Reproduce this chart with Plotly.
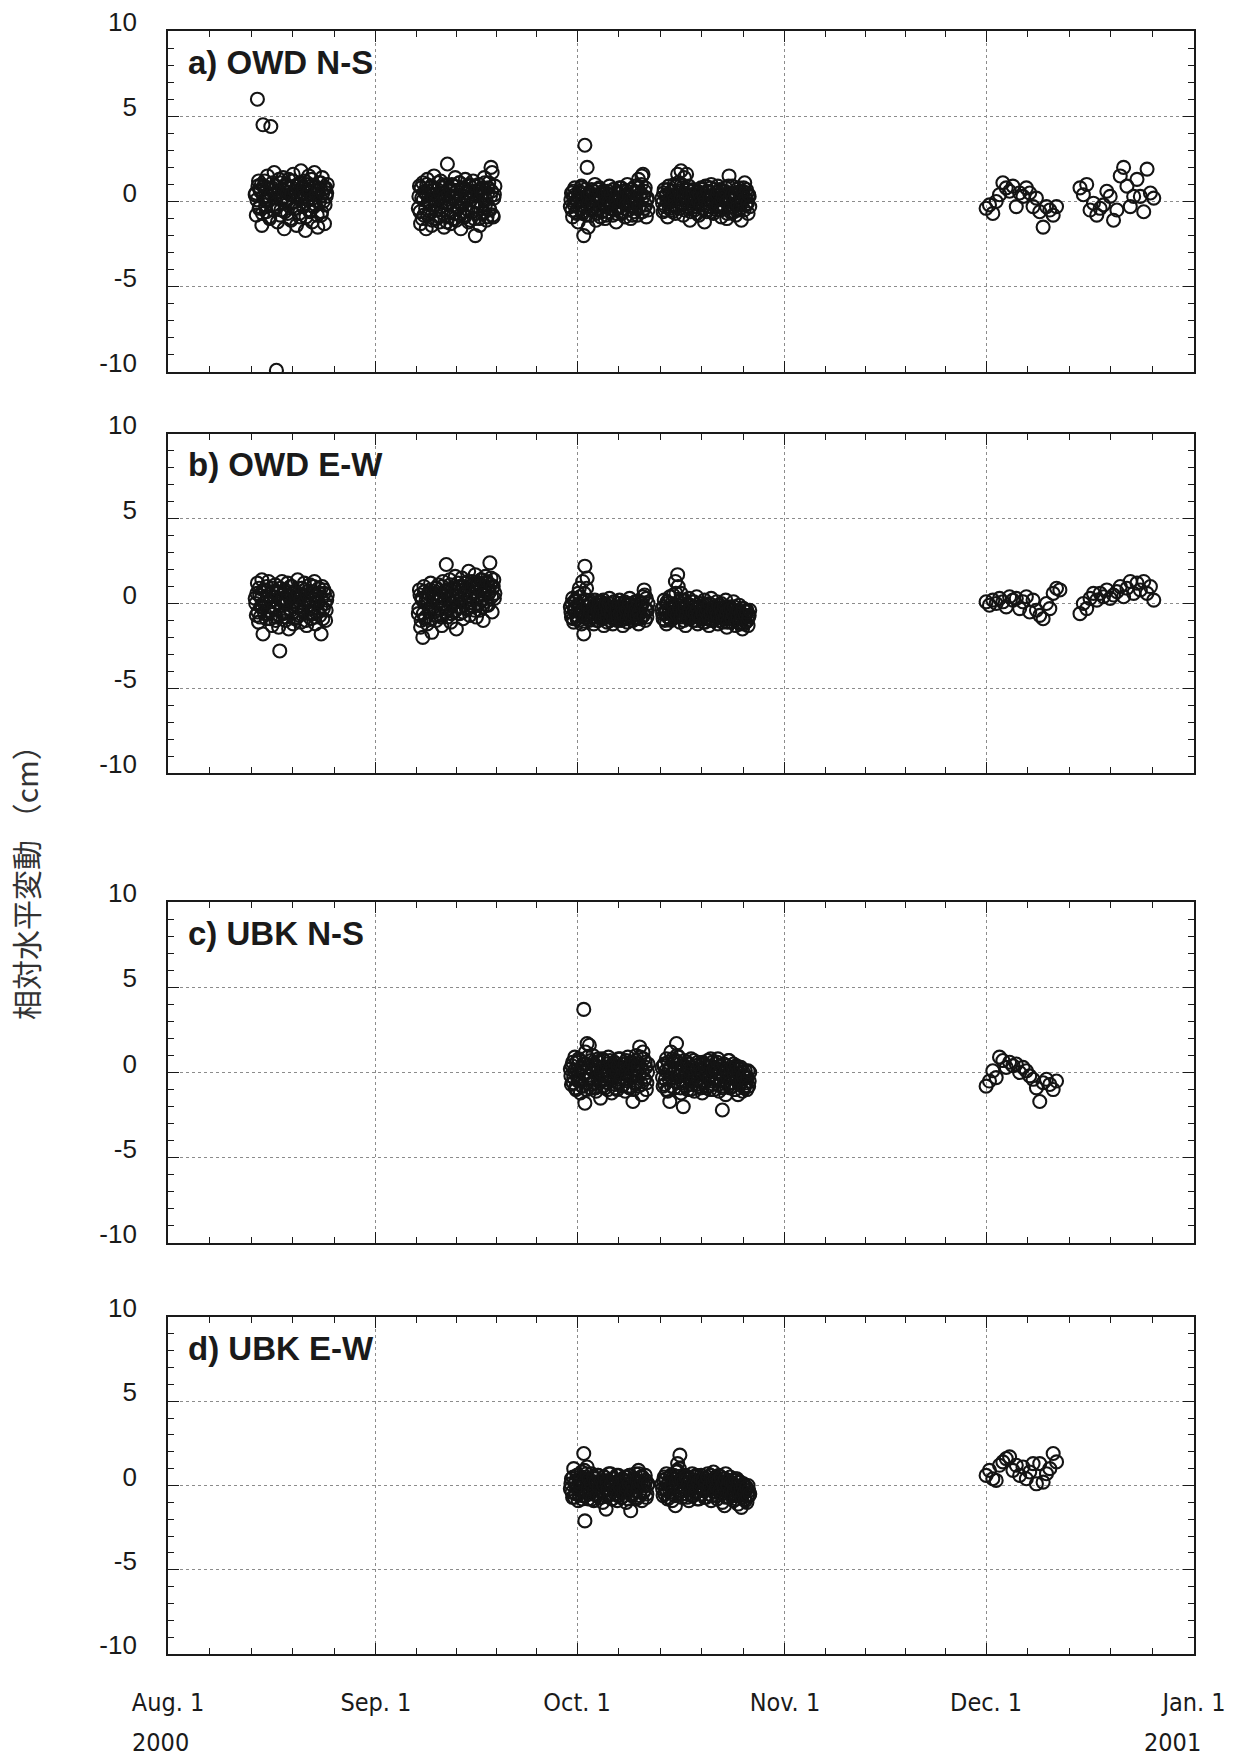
import pandas as pd
import plotly.graph_objects as go

# ---------------- data ----------------
# each cluster: start time, sampling step, values (cm)
a_times = ["2000-08-14 00:00", "2000-08-14 02:00", "2000-09-07 08:00", "2000-09-07 10:00",
           "2000-09-30 00:00", "2000-09-30 02:00", "2000-10-13 16:00", "2000-10-13 18:00",
           "2000-12-01 00:00", "2000-12-15 00:00"]
a_steps = ["4h", "4h", "4h", "4h", "4h", "4h", "4h", "4h", "12h", "12h"]
a1 = [0.4, -0.8, 6.0, 1.2, -0.3, 0.7, -1.4, 4.5, 0.9, 0.1, -0.6, 1.5, 0.3, -1.0, 4.4, 0.8, -0.2, 1.7, 0.5, -9.9,
      -1.2, 0.6, 1.1, -0.5, 0.2, 1.4, -1.6, 0.9, 0.0, -0.7, 1.3, 0.4, -1.1, 0.8, 1.6, -0.4, 0.3, -1.4, 1.0, 0.6,
      -0.9, 1.8, 0.2, -0.3, 1.2, -1.7, 0.7, 0.1, 1.5, -0.6, 0.9, -1.2, 0.4, 1.7, -0.2, 0.6, -1.5, 1.1, 0.3, -0.8,
      1.4, 0.0, -1.3, 0.8, 0.5]
a1x = [0.5, 0.1, 0.9, -0.4, 0.6, 1.0, -0.7, 0.3, 1.2, -0.2, 0.8, 0.0, -0.9, 0.7, 0.4, 1.1, -0.5, 0.2, 0.9, -0.3,
       0.6, 1.3, -0.8, 0.1, 0.7, 0.3, -0.6, 1.0, 0.5, -0.1, 0.8, -1.0, 0.4, 1.2, 0.0, 0.6, -0.4, 0.9, 0.2, -0.7,
       1.1, 0.5, -0.2, 0.8, 0.3, -0.9, 1.0, 0.1, 0.6, -0.5, 1.3, 0.2, -0.3, 0.9, 0.4, -0.8, 0.7, 0.0, 1.1, -0.6,
       0.5, 0.8, -0.2, 0.3, 1.0]
a2 = [-0.4, 0.9, -1.3, 0.2, 1.1, -0.8, 0.5, -1.6, 1.3, 0.0, -0.6, 0.8, -1.4, 0.4, 1.5, -0.2, -1.0, 0.7, 0.1, -1.2,
      1.2, -0.5, 0.3, -1.5, 0.9, -0.1, 2.2, -0.9, 0.6, -1.3, 1.0, 0.2, -0.7, 1.4, -1.1, 0.4, -0.3, 1.1, -1.6, 0.7,
      0.0, -0.8, 1.3, -0.4, 0.5, -1.2, 0.9, 0.1, -0.6, 1.2, -1.0, -2.0, 0.6, -0.3, 1.0, -1.4, 0.3, 0.8, -0.7, 1.4,
      -0.2, -1.1, 0.5, 1.1, -0.5, 2.0, 1.7, -0.9, 0.4]
a2x = [0.3, -0.6, 0.8, -1.0, 0.1, 0.6, -0.4, 1.0, -0.8, 0.4, -0.2, 0.9, -1.1, 0.2, 0.7, -0.5, 0.0, 1.1, -0.9, 0.5,
       -0.3, 0.8, -0.7, 0.2, 1.0, -1.2, 0.4, -0.1, 0.7, -0.6, 0.3, 0.9, -1.0, 0.0, 0.6, -0.4, 1.1, -0.8, 0.2, -0.2,
       0.8, -0.9, 0.5, 0.1, -0.5, 1.0, -1.1, 0.3, 0.6, -0.3, 0.9, -0.7, 0.0, 0.4, -1.0, 0.7, -0.2, 0.5, -0.6, 1.1,
       0.1, -0.9, 0.8, -0.4, 0.3, 0.6, -0.8, 0.2, 0.9]
a3 = [-0.3, 0.5, -0.9, 0.2, 0.8, -0.6, 0.1, -1.2, 0.6, -0.2, 0.9, -0.7, -2.0, 3.3, 0.3, 2.0, -1.5, 0.4, -0.8, 0.7,
      -0.4, 0.0, 1.0, -1.1, 0.3, -0.5, 0.8, -0.9, 0.2, 0.6, -0.3, -1.0, 0.5, 0.1, -0.6, 0.9, -0.2, 0.4, -0.8, 0.7,
      0.0, -1.2, 0.5, -0.4, 0.8, 0.2, -0.7, 0.6, -0.1, -0.9, 0.4, 1.0, -0.5, 0.3, -1.0, 0.7, 0.0, -0.6, 0.9, 0.2,
      -0.8, 1.3, -0.3, 0.5, 1.5, 1.6, -0.4, 0.8, -0.9, 0.2]
a3x = [0.1, -0.5, 0.6, -0.2, 0.4, -0.7, 0.0, 0.5, -0.4, 0.8, -0.6, 0.2, -0.3, 0.7, -0.8, 0.3, -0.1, 0.5, -0.5, 0.1,
       0.6, -0.3, 0.4, -0.7, 0.0, 0.7, -0.4, 0.2, -0.6, 0.5, -0.1, 0.3, -0.8, 0.6, 0.0, -0.4, 0.4, -0.2, 0.7, -0.5,
       0.1, -0.7, 0.5, -0.3, 0.2, 0.8, -0.6, 0.0, 0.4, -0.2, 0.6, -0.5, 0.3, -0.1, 0.7, -0.8, 0.2, 0.5, -0.4, 0.0,
       0.8, -0.3, 0.4, 1.0, -0.6, 0.3, 0.6, -0.2, 0.1, -0.5]
a4 = [0.2, -0.6, 0.7, -0.3, 0.4, -0.9, 0.9, 0.0, -0.5, 0.6, -0.2, 1.0, -0.7, 0.3, 1.6, 0.5, -0.4, 1.8, 0.8, -0.8,
      1.4, 0.1, 1.6, -0.3, 0.9, -1.1, 0.4, 0.0, 0.7, -0.5, 0.3, -0.1, 0.6, -0.8, 0.2, 0.8, -0.4, 0.5, -1.2, 0.9,
      -0.6, 0.1, 0.6, -0.3, 1.0, 0.0, -0.7, 0.7, 0.2, -0.5, 0.9, -0.2, 0.4, -0.9, 0.6, 0.1, -0.4, 0.8, -1.0, 0.3,
      1.5, -0.6, 0.5, 0.9, -0.3, 0.2, -0.8, 0.7, 0.0, -0.5, 0.6, -1.1, 0.4, 0.8, 1.1, -0.2, 0.5, -0.7, 0.3]
a4x = [-0.1, 0.5, -0.5, 0.3, 0.0, 0.7, -0.4, 0.2, 0.6, -0.6, 0.4, 0.1, 0.9, -0.3, 1.1, 0.6, 0.2, 1.0, -0.2, 0.5,
       -0.5, 0.3, 0.7, -0.1, 0.4, -0.6, 0.1, 0.6, -0.3, 0.2, 0.5, -0.7, 0.0, 0.4, -0.2, 0.7, -0.4, 0.3, 0.1, -0.5,
       0.6, -0.1, 0.2, 0.8, -0.6, 0.3, 0.0, 0.5, -0.3, 0.4, -0.2, 0.7, -0.5, 0.1, 0.3, -0.4, 0.6, 0.0, -0.7, 0.9,
       0.2, -0.3, 0.4, 0.1, -0.6, 0.5, 0.2, -0.2, 0.8, -0.4, 0.3, 0.0, 0.6, -0.5, 0.2, 0.7, -0.1, 0.4, -0.3]
a5 = [-0.4, -0.2, -0.7, 0.0, 0.4, 1.1, 0.8, 0.6, 0.9, -0.3, 0.5, 0.3, 0.8, 0.5, -0.3, 0.2, -0.6, -1.5, -0.3, -0.5,
      -0.8, -0.3]
a6 = [0.8, 0.4, 1.0, -0.5, -0.1, -0.8, -0.4, -0.2, 0.6, 0.3, -1.1, -0.5, 1.5, 2.0, 0.9, -0.3, 0.3, 1.3, 0.3, -0.6,
      1.9, 0.5, 0.2]

b_times = a_times
b_steps = a_steps
b1 = [0.3, -0.7, 1.2, -1.1, 0.5, -0.2, 1.4, -1.8, 0.0, 0.8, -0.9, 0.4, 1.3, -0.5, 0.1, -1.3, 0.9, -0.3, 1.1, -0.8,
      0.6, -1.4, -2.8, 0.2, 1.3, -0.6, 0.7, -1.0, 0.0, 1.2, -1.5, 0.4, -0.4, 1.0, -1.2, 0.6, 0.1, -0.8, 1.4, -0.2,
      0.5, -1.1, 0.9, -0.5, 1.2, 0.2, -1.3, 0.7, -0.1, 1.1, -0.9, 0.3, -0.6, 1.3, -1.2, 0.5, 0.0, 0.9, -0.7, -1.8,
      1.0, -0.3, 0.6, -1.0, 0.2]
b1x = [0.0, 0.6, -0.5, 0.9, -0.8, 0.3, -0.2, 0.8, -0.6, 0.1, 1.0, -0.4, 0.5, -0.9, 0.2, 0.7, -0.3, 0.4, -1.0, 0.6,
       0.0, -0.7, 0.9, -0.1, 0.3, -0.5, 0.8, -0.8, 0.2, 0.5, -0.3, 1.0, -0.6, 0.1, 0.7, -0.9, 0.4, -0.2, 0.6, -0.7,
       0.3, 0.9, -0.4, 0.0, 0.8, -1.0, 0.5, -0.1, 0.2, -0.6, 0.7, -0.3, 1.0, -0.8, 0.4, 0.1, -0.5, 0.6, -0.2, 0.3,
       -0.9, 0.8, 0.0, -0.4, 0.5]
b2 = [-0.6, 0.8, -1.4, 0.3, -2.0, 1.0, -0.9, 0.2, -1.2, 0.6, -0.3, 1.2, -1.7, 0.4, -0.5, 0.9, -1.0, 0.1, 1.1, -0.7,
      0.5, -1.3, 1.3, -0.2, 0.7, 2.3, -0.8, 0.3, 1.4, -1.1, 0.0, 0.9, -0.5, 1.6, -1.5, 0.4, 1.0, -0.6, 0.2, 1.5,
      -0.9, 0.6, 1.2, -0.3, 0.8, 1.9, -0.7, 0.4, 1.3, -0.2, 0.9, 1.7, -0.8, 0.5, 1.1, -0.4, 1.4, 0.2, -1.0, 0.8,
      1.6, -0.1, 1.2, 0.6, 2.4, 1.5, -0.5, 1.0, 0.3]
b2x = [-0.3, 0.5, -1.0, 0.2, -0.6, 0.7, -0.8, 0.0, 0.4, -0.5, 0.8, -0.9, 0.3, -0.2, 0.6, -0.7, 0.9, 0.1, -0.4, 0.5,
       -0.8, 1.0, 0.0, 0.4, -0.5, 0.8, 0.2, -0.3, 1.1, -0.6, 0.5, 0.0, 0.9, -0.4, 0.7, 1.2, -0.2, 0.3, 0.8, -0.5,
       1.0, 0.1, 0.6, -0.3, 1.3, 0.4, -0.1, 0.9, 0.2, 1.1, -0.4, 0.7, 0.3, 1.2, 0.0, 0.8, 1.4, -0.2, 0.5, 1.0,
       0.3, 1.3, -0.1, 0.7, 1.1, 0.4, 0.9, 1.4, 0.6]
b3 = [-0.2, -0.8, 0.3, -1.1, -0.4, 0.1, -0.9, 0.6, 0.9, -0.5, -1.2, 1.3, -1.8, 2.2, 0.2, 1.5, -0.7, -1.0, 0.0, -0.6,
      -0.3, -1.2, 0.2, -0.8, -0.1, -1.0, -0.5, 0.1, -0.9, -0.3, -1.3, 0.0, -0.6, -1.1, -0.2, 0.3, -0.8, -0.4, -1.2, 0.1,
      -0.7, -0.2, -1.0, -0.5, 0.2, -0.9, -0.3, -1.3, 0.0, -0.6, -0.1, -1.1, -0.4, 0.3, -0.8, -0.2, -1.0, -0.5, 0.1, -0.9,
      -0.3, -1.2, -0.6, 0.0, -0.8, 0.4, 0.8, -1.0, 0.3, -0.4]
b3x = [-0.5, 0.0, -0.9, -0.3, 0.2, -0.7, -0.1, -1.0, 0.4, -0.6, 0.1, -0.4, 0.6, -0.8, 0.9, -0.2, -0.9, -0.5, 0.1, -0.8,
       -0.2, -0.6, 0.0, -1.0, -0.4, 0.1, -0.7, -0.3, -0.9, 0.2, -0.5, -0.1, -0.8, -0.4, 0.0, -1.0, -0.6, -0.2, -0.9, 0.1,
       -0.5, -0.3, -0.8, 0.0, -0.6, -1.0, -0.2, -0.7, 0.1, -0.4, -0.9, -0.3, 0.0, -0.7, -0.5, -1.0, -0.1, -0.6, -0.3, -0.8,
       0.1, -0.5, -0.9, -0.2, 0.0, -0.7, 0.5, -0.4, -0.8, 0.0]
b4 = [-0.3, -0.9, 0.2, -0.6, -1.2, 0.0, -0.5, 0.4, -1.0, -0.2, 0.5, -0.8, 1.3, -0.4, 1.7, 0.1, -1.1, 0.6, -0.3, -0.7,
      0.2, -1.3, -0.1, -0.6, 0.3, -0.9, -0.4, 0.1, -1.0, -0.2, -0.7, 0.4, -1.2, -0.5, 0.0, -0.8, -0.3, -1.1, 0.2, -0.6,
      -0.9, -0.1, -1.3, -0.4, 0.3, -0.7, -1.0, -0.2, -0.6, 0.1, -1.2, -0.5, -0.8, 0.0, -1.1, -0.3, -0.7, 0.2, -1.4, -0.6,
      -0.9, -0.2, -1.1, -0.4, 0.1, -0.8, -1.3, -0.5, -0.9, -0.1, -1.2, -0.6, -1.5, -0.3, -0.8, -1.1, -0.4, -1.3, -0.7]
b4x = [-0.6, -0.2, -1.0, -0.4, 0.1, -0.8, -0.3, -0.9, 0.0, -0.6, -0.1, -0.5, 0.6, -0.7, 1.0, -0.3, -0.8, 0.2, -0.5, -1.0,
       -0.2, -0.7, 0.0, -0.9, -0.4, -0.1, -0.8, -0.5, 0.1, -0.6, -1.0, -0.3, -0.7, 0.0, -0.9, -0.4, -0.6, -0.1, -1.1, -0.5,
       -0.3, -0.8, 0.0, -0.6, -1.0, -0.4, -0.2, -0.9, -0.5, -0.7, -0.1, -1.0, -0.3, -0.6, -0.9, -0.2, -0.8, -0.5, -1.1, -0.4,
       -0.7, -0.3, -0.9, -0.6, -0.2, -1.0, -0.5, -0.8, -0.4, -1.1, -0.6, -0.9, -0.3, -1.2, -0.7, -0.5, -1.0, -0.8, -0.4]
b5 = [0.1, -0.1, 0.2, 0.0, 0.3, 0.1, -0.2, 0.4, 0.2, 0.3, -0.3, 0.1, 0.4, -0.5, 0.2, -0.4, -0.7, -0.9, 0.0, -0.3,
      0.6, 0.9, 0.8]
b6 = [-0.6, 0.0, -0.3, 0.3, 0.6, 0.2, 0.6, 0.4, 0.8, 0.3, 0.5, 0.7, 1.0, 0.4, 0.9, 1.3, 0.6, 1.2, 0.8, 1.3,
      0.6, 1.0, 0.2]

c_times = ["2000-09-30 00:00", "2000-09-30 02:00", "2000-10-13 16:00", "2000-10-13 18:00", "2000-12-01 00:00"]
c_steps = ["4h", "4h", "4h", "4h", "12h"]
c3 = [0.2, -0.7, 0.6, -0.3, 0.9, -1.0, 0.1, -0.5, 0.7, -1.2, 0.3, -0.8, 3.7, -1.8, 0.5, 1.7, -0.4, 1.6, -0.9, 0.2,
      1.0, -0.6, 0.4, -1.1, 0.0, 0.8, -0.5, -1.5, 0.3, -0.2, 0.7, -0.9, 0.1, -0.6, 0.9, -0.3, 0.4, -1.2, 0.0, 0.6,
      -0.7, 0.2, -1.0, 0.8, -0.4, 0.3, -0.8, 0.5, -0.1, -1.1, 0.7, -0.5, 0.2, -0.9, 0.6, -0.2, -1.7, 0.4, -0.6, 1.0,
      0.1, -0.8, 1.5, 0.3, -1.3, 1.2, -0.4, 0.6, -1.0, 0.0]
c3x = [-0.2, 0.4, -0.6, 0.1, -0.9, 0.6, -0.3, 0.8, -0.5, 0.2, -0.8, 0.5, 0.0, 1.2, -1.0, 0.9, 0.3, -0.4, 0.7, -0.7,
       0.1, 0.5, -0.9, 0.3, -0.3, 0.6, -0.6, 0.0, 0.8, -0.8, 0.2, -0.4, 0.5, -1.0, 0.1, 0.7, -0.5, 0.3, -0.2, 0.6,
       -0.9, 0.0, 0.4, -0.6, 0.8, -0.3, 0.2, -0.7, 0.5, 0.0, -0.4, 0.9, -0.8, 0.3, -0.1, 0.6, -1.0, 0.2, 0.7, -0.5,
       0.4, -0.2, 0.9, -0.7, 0.1, 0.8, -0.4, 0.3, -0.6, 0.5]
c4 = [0.3, -0.8, 0.5, -0.4, 0.8, -1.1, 0.1, -1.7, 1.2, -0.3, 0.6, -0.9, 0.2, 1.7, -0.6, 0.9, -0.2, -1.2, 0.4, -2.0,
      0.7, -0.5, 0.1, -1.0, 0.5, -0.3, 0.8, -0.7, 0.0, -1.1, 0.4, -0.4, 0.6, -0.8, 0.2, -0.1, -1.2, 0.5, -0.6, 0.3,
      -0.9, 0.7, -0.2, -1.0, 0.1, 0.6, -0.7, 0.3, 0.5, -0.4, 0.8, -1.1, 0.0, -0.5, -2.2, -0.8, 0.2, -1.3, 0.4, -0.3,
      0.7, -0.9, 0.1, -0.6, 0.5, -1.0, -0.2, 0.3, -1.3, -0.7, 0.2, -0.4, -1.1, 0.0, -0.8, -0.3, -1.0, 0.1, -0.5]
c4x = [-0.3, 0.4, -0.7, 0.1, -1.0, 0.6, -0.4, 0.3, -0.8, 0.8, 0.0, -0.5, 0.7, 1.0, -0.2, 0.5, -0.9, 0.2, -0.6, 0.4,
       -0.1, -0.8, 0.6, -0.3, 0.1, -1.0, 0.3, -0.5, 0.7, -0.2, -0.7, 0.2, -0.4, 0.5, -0.9, 0.0, 0.6, -0.6, 0.3, -0.1,
       -0.8, 0.4, -0.3, 0.8, -0.5, 0.1, -1.0, 0.2, -0.4, 0.6, -0.7, 0.0, 0.4, -0.2, -0.9, 0.5, -0.5, 0.1, -0.3, 0.7,
       -0.6, 0.2, -0.8, 0.3, -0.1, -1.0, 0.4, -0.4, 0.0, -0.7, 0.3, -0.5, -0.2, -0.9, 0.1, -0.6, -0.3, -0.8, 0.0]
c5 = [-0.8, -0.5, 0.1, -0.3, 0.9, 0.7, 0.3, 0.6, 0.4, 0.5, 0.0, 0.3, 0.1, -0.2, -0.4, -0.9, -1.7, -0.6, -0.4, -0.7,
      -1.0, -0.5]

d_times = c_times
d_steps = c_steps
d3 = [-0.2, 0.4, -0.7, 1.0, 0.1, -0.5, 0.6, -0.9, 0.3, -0.3, 0.8, -0.6, 1.9, -2.1, 0.5, 1.1, -0.8, 0.2, -0.4, 0.7,
      -0.1, -0.9, 0.4, -0.5, 0.0, 0.6, -0.7, 0.2, -0.3, -1.0, 0.5, -0.2, -1.4, 0.3, -0.6, 0.1, 0.7, -0.8, -0.1, 0.4,
      -0.5, 0.2, -0.9, 0.6, -0.3, 0.0, -0.7, 0.3, -0.4, 0.5, -1.0, 0.1, -0.2, 0.6, -1.5, -0.6, 0.3, -0.1, 0.7, -0.8,
      0.2, 0.9, -0.4, 0.5, -0.9, 0.1, -0.3, 0.6, -0.7, 0.0]
d3x = [0.1, -0.4, 0.5, -0.7, 0.2, -0.1, 0.6, -0.5, 0.0, 0.4, -0.8, 0.3, 0.9, -0.6, 0.7, -0.2, 0.4, -0.5, 0.1, -0.8,
       0.5, -0.3, 0.2, -0.6, 0.6, -0.1, -0.7, 0.3, -0.4, 0.0, 0.5, -0.6, 0.2, -0.2, 0.7, -0.5, 0.1, -0.8, 0.4, -0.3,
       0.0, 0.6, -0.6, 0.2, -0.1, -0.7, 0.4, -0.4, 0.3, -0.2, 0.5, -0.8, 0.1, 0.6, -0.5, 0.0, -0.3, 0.4, -0.7, 0.3,
       -0.1, 0.7, -0.6, 0.2, 0.5, -0.4, 0.0, 0.3, -0.5, 0.1]
d4 = [0.1, -0.6, 0.5, -0.2, 0.7, -0.8, 0.2, -0.4, 0.6, -0.9, 0.0, 0.4, -1.2, 0.8, 1.3, -0.3, 1.8, 0.3, -0.7, 0.5,
      -0.1, 0.6, -0.5, 0.2, -0.9, 0.4, -0.2, 0.7, -0.6, 0.1, 0.5, -0.4, 0.3, -0.8, 0.0, 0.6, -0.3, 0.2, -0.7, 0.4,
      -0.1, 0.7, -0.5, 0.1, -0.9, 0.3, 0.8, -0.2, 0.5, -0.6, 0.0, 0.6, -0.4, 0.2, -1.0, 0.4, -1.2, 0.7, -0.3, 0.1,
      -0.7, 0.5, -0.5, 0.0, -0.9, 0.3, -0.6, 0.4, -1.1, -0.2, 0.2, -1.3, -0.5, 0.1, -0.8, -0.3, -1.0, 0.0, -0.6]
d4x = [-0.2, 0.3, -0.5, 0.4, -0.3, 0.1, -0.7, 0.5, 0.0, -0.4, 0.6, -0.6, 0.2, 0.9, 0.5, 1.0, -0.1, 0.3, -0.5, 0.2,
       -0.3, 0.5, -0.7, 0.1, -0.2, 0.4, -0.6, 0.3, 0.0, -0.4, 0.6, -0.8, 0.2, -0.1, 0.4, -0.5, 0.3, -0.3, 0.1, -0.7,
       0.5, -0.2, 0.0, 0.6, -0.6, 0.2, -0.4, 0.4, -0.1, -0.8, 0.3, -0.3, 0.5, -0.5, 0.1, -0.2, 0.4, -0.7, 0.0, 0.3,
       -0.4, 0.2, -0.6, 0.1, -0.3, 0.4, -0.8, -0.1, 0.2, -0.5, -0.2, -0.7, 0.0, -0.4, -0.9, -0.1, -0.6, -0.3, -0.5]
d5 = [0.6, 0.9, 0.4, 0.3, 1.2, 1.4, 1.6, 1.7, 0.9, 1.2, 0.6, 1.1, 0.4, 0.8, 1.3, 0.1, 1.3, 0.2, 0.7, 1.0,
      1.9, 1.4]

panel_labels = ["a) OWD N-S", "b) OWD E-W", "c) UBK N-S", "d) UBK E-W"]
month_ticks = ["2000-08-01", "2000-09-01", "2000-10-01", "2000-11-01", "2000-12-01", "2001-01-01"]
month_text = ["Aug. 1", "Sep. 1", "Oct. 1", "Nov. 1", "Dec. 1", "Jan. 1"]
year_text = ["2000", "2001"]
y_ticks = [-10, -5, 0, 5, 10]
y_title = "相対水平変動 （cm）"

panels = [
    (a_times, a_steps, [a1, a1x, a2, a2x, a3, a3x, a4, a4x, a5, a6]),
    (b_times, b_steps, [b1, b1x, b2, b2x, b3, b3x, b4, b4x, b5, b6]),
    (c_times, c_steps, [c3, c3x, c4, c4x, c5]),
    (d_times, d_steps, [d3, d3x, d4, d4x, d5]),
]

# ---------------- layout geometry (pixels) ----------------
W, H = 1242, 1760
x_left, x_right = 168, 1194
panel_px = [(31, 372), (434, 773), (902, 1243), (1317, 1654)]

fig = go.Figure()

marker = dict(symbol="circle-open", size=13, color="#141414", line=dict(width=2.1, color="#141414"))

for i, (times, steps, groups) in enumerate(panels):
    xs, ys = [], []
    for t0, st, vals in zip(times, steps, groups):
        xs.extend(pd.date_range(t0, periods=len(vals), freq=st))
        ys.extend(vals)
    fig.add_trace(go.Scatter(x=xs, y=ys, mode="markers", marker=marker,
                             xaxis="x" if i == 0 else f"x{i+1}",
                             yaxis="y" if i == 0 else f"y{i+1}",
                             showlegend=False, hoverinfo="x+y"))

# minor ticks: each month divided into 5
minor_vals = []
for m0, m1 in zip(month_ticks[:-1], month_ticks[1:]):
    s, e = pd.Timestamp(m0), pd.Timestamp(m1)
    for k in range(1, 5):
        minor_vals.append(s + (e - s) * k / 5)

font_num = "Liberation Sans, Arial, Helvetica, sans-serif"
font_narrow = "Liberation Sans Narrow, Arial Narrow, DejaVu Sans Condensed, Liberation Sans, sans-serif"
axcol = "#1a1a1a"
gridcol = "#8c8c8c"

for i, (top, bot) in enumerate(panel_px):
    xa = "xaxis" if i == 0 else f"xaxis{i+1}"
    ya = "yaxis" if i == 0 else f"yaxis{i+1}"
    last = (i == len(panel_px) - 1)
    fig.update_layout({
        xa: dict(
            domain=[x_left / W, x_right / W],
            anchor="y" if i == 0 else f"y{i+1}",
            automargin=False,
            type="date",
            range=[month_ticks[0], month_ticks[-1]],
            tickmode="array", tickvals=month_ticks, ticktext=month_text,
            showticklabels=last,
            tickfont=dict(family=font_narrow, size=25, color=axcol),
            ticklabelstandoff=25,
            ticks="inside", ticklen=11, tickwidth=1.3, tickcolor=axcol,
            showline=True, linecolor=axcol, linewidth=1.8, mirror="ticks",
            showgrid=True, gridcolor=gridcol, griddash="dot", gridwidth=1,
            zeroline=False,
            minor=dict(tickmode="array", tickvals=minor_vals, ticks="inside",
                       ticklen=6, tickwidth=1.2, tickcolor=axcol, showgrid=False),
        ),
        ya: dict(
            domain=[1 - bot / H, 1 - top / H],
            anchor="x" if i == 0 else f"x{i+1}",
            automargin=False,
            range=[-10, 10],
            tickmode="array", tickvals=y_ticks, ticktext=[str(v) for v in y_ticks],
            tickfont=dict(family=font_num, size=26, color=axcol),
            ticklabelstandoff=24, ticklabelshift=-9,
            ticks="inside", ticklen=11, tickwidth=1.3, tickcolor=axcol,
            showline=True, linecolor=axcol, linewidth=1.8, mirror="ticks",
            showgrid=True, gridcolor=gridcol, griddash="dot", gridwidth=1,
            zeroline=False,
            minor=dict(dtick=1, tick0=0, ticks="inside", ticklen=6, tickwidth=1.2,
                       tickcolor=axcol, showgrid=False),
        ),
    })
    fig.add_annotation(text=f"<b>{panel_labels[i]}</b>", xref="paper", yref="paper",
                       x=186 / W, y=1 - (top + 31) / H, xanchor="left", yanchor="middle",
                       showarrow=False, font=dict(family=font_num, size=33, color=axcol))

fig.add_annotation(text=year_text[0], xref="paper", yref="paper", x=160 / W, y=1 - 1742 / H,
                   xanchor="center", yanchor="middle", showarrow=False,
                   font=dict(family=font_narrow, size=25, color=axcol))
fig.add_annotation(text=year_text[1], xref="paper", yref="paper", x=1172 / W, y=1 - 1742 / H,
                   xanchor="center", yanchor="middle", showarrow=False,
                   font=dict(family=font_narrow, size=25, color=axcol))
fig.add_annotation(text=y_title, xref="paper", yref="paper", x=25 / W, y=1 - 875 / H,
                   xanchor="center", yanchor="middle", textangle=-90, showarrow=False,
                   font=dict(family="Noto Sans CJK JP, sans-serif", size=30, color="#333333"))

fig.update_layout(width=W, height=H, margin=dict(l=0, r=0, t=0, b=0, autoexpand=False),
                  paper_bgcolor="white", plot_bgcolor="white")

fig.write_html("out.html", config={"displayModeBar": False},
               post_script="document.body.style.margin='0';document.body.style.overflow='hidden';")
